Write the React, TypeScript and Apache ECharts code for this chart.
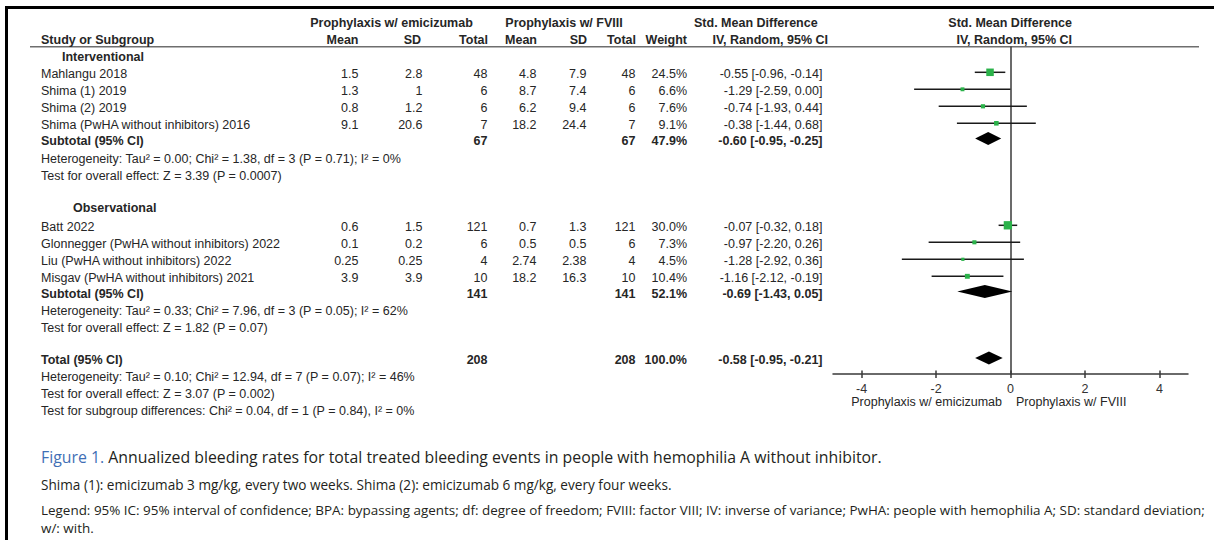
import React, { useEffect, useRef } from "react";
import * as echarts from "echarts";

// ---------- data ----------
const studies = [
  "Mahlangu 2018",
  "Shima (1) 2019",
  "Shima (2) 2019",
  "Shima (PwHA without inhibitors) 2016",
  "Batt 2022",
  "Glonnegger (PwHA without inhibitors) 2022",
  "Liu (PwHA without inhibitors) 2022",
  "Misgav (PwHA without inhibitors) 2021",
];
const studyGroup = [0, 0, 0, 0, 1, 1, 1, 1];
const emiMean = [1.5, 1.3, 0.8, 9.1, 0.6, 0.1, 0.25, 3.9];
const emiSD = [2.8, 1, 1.2, 20.6, 1.5, 0.2, 0.25, 3.9];
const emiN = [48, 6, 6, 7, 121, 6, 4, 10];
const fviiiMean = [4.8, 8.7, 6.2, 18.2, 0.7, 0.5, 2.74, 18.2];
const fviiiSD = [7.9, 7.4, 9.4, 24.4, 1.3, 0.5, 2.38, 16.3];
const fviiiN = [48, 6, 6, 7, 121, 6, 4, 10];
const weight = [24.5, 6.6, 7.6, 9.1, 30.0, 7.3, 4.5, 10.4];
const smd = [-0.55, -1.29, -0.74, -0.38, -0.07, -0.97, -1.28, -1.16];
const ciLow = [-0.96, -2.59, -1.93, -1.44, -0.32, -2.2, -2.92, -2.12];
const ciHigh = [-0.14, 0.0, 0.44, 0.68, 0.18, 0.26, 0.36, -0.19];

const groupNames = ["Interventional", "Observational"];
const subN = [67, 141];
const subWeight = [47.9, 52.1];
const subSmd = [-0.6, -0.69];
const subLow = [-0.95, -1.43];
const subHigh = [-0.25, 0.05];
const subHet = [
  "Heterogeneity: Tau² = 0.00; Chi² = 1.38, df = 3 (P = 0.71); I² = 0%",
  "Heterogeneity: Tau² = 0.33; Chi² = 7.96, df = 3 (P = 0.05); I² = 62%",
];
const subTest = [
  "Test for overall effect: Z = 3.39 (P = 0.0007)",
  "Test for overall effect: Z = 1.82 (P = 0.07)",
];
const totalN = 208;
const totalWeight = 100.0;
const totalSmd = -0.58;
const totalLow = -0.95;
const totalHigh = -0.21;
const totalNotes = [
  "Heterogeneity: Tau² = 0.10; Chi² = 12.94, df = 7 (P = 0.07); I² = 46%",
  "Test for overall effect: Z = 3.07 (P = 0.002)",
  "Test for subgroup differences: Chi² = 0.04, df = 1 (P = 0.84), I² = 0%",
];
const xTicks = [-4, -2, 0, 2, 4];
const favoursLeft = "Prophylaxis w/ emicizumab";
const favoursRight = "Prophylaxis w/ FVIII";
const captionLabel = "Figure 1.";
const captionText =
  "Annualized bleeding rates for total treated bleeding events in people with hemophilia A without inhibitor.";
const noteText =
  "Shima (1): emicizumab 3 mg/kg, every two weeks. Shima (2): emicizumab 6 mg/kg, every four weeks.";
const legendText1 =
  "Legend: 95% IC: 95% interval of confidence; BPA: bypassing agents; df: degree of freedom; FVIII: factor VIII; IV: inverse of variance; PwHA: people with hemophilia A; SD: standard deviation;";
const legendText2 = "w/: with.";

// ---------- layout (rows in table line units) ----------
const studyRows = [1, 2, 3, 4, 10, 11, 12, 13];
const groupHeadRows = [0, 8.85];
const subRows = [4.9, 13.9];
const hetRows = [5.98, 14.95];
const testRows = [7, 15.95];
const totalRow = 17.8;
const totalNoteRows = [18.8, 19.8, 20.8];

const ROW0 = 55.3;
const ROW_H = 17;
const PLOT_TOP = 47;
const PLOT_BOTTOM = 374;
const PLOT_LEFT = 833;
const PLOT_RIGHT = 1188;
const X_MIN = -4.77;
const X_MAX = 4.77;
const rowY = (r: number) => ROW0 + ROW_H * r + 2;

const FONT = '"Liberation Sans", Arial, sans-serif';
const CAP_FONT = '"Open Sans", "Noto Sans", sans-serif';
const TXT = "#262626";

const cols = {
  name: 41,
  emiMean: 358.5,
  emiSD: 422.5,
  emiN: 487.5,
  fMean: 536.5,
  fSD: 586.5,
  fN: 635.5,
  weight: 687,
  ci: 822.5,
};

const fmtCI = (e: number, l: number, h: number) =>
  `${e.toFixed(2)} [${l.toFixed(2)}, ${h.toFixed(2)}]`;

function txt(
  text: string,
  x: number,
  y: number,
  align: string,
  bold = false,
  size = 12.5,
  fill = TXT,
  family = FONT
) {
  return {
    type: "text",
    x,
    y,
    silent: true,
    style: {
      text,
      font: `${bold ? "bold " : ""}${size}px ${family}`,
      fill,
      align,
      verticalAlign: "middle",
      textAlign: align,
      textVerticalAlign: "middle",
    },
  };
}

export default function App() {
  const ref = useRef<HTMLDivElement>(null);

  useEffect(() => {
    if (!ref.current) return;
    const chart = echarts.init(ref.current, null, { renderer: "svg" });

    const graphics: any[] = [];
    // frame
    graphics.push({
      type: "line",
      shape: { x1: 6.5, y1: 6, x2: 6.5, y2: 540 },
      style: { stroke: "#000", lineWidth: 3 },
    });
    graphics.push({
      type: "line",
      shape: { x1: 5, y1: 7.5, x2: 1214, y2: 7.5 },
      style: { stroke: "#000", lineWidth: 3 },
    });
    // header underline
    graphics.push({
      type: "line",
      shape: { x1: 30, y1: 46.8, x2: 1199, y2: 46.8 },
      style: { stroke: "#6e6e6e", lineWidth: 1.6 },
    });

    // headers
    const H1 = 23;
    const H2 = 39.5;
    graphics.push(txt("Prophylaxis w/ emicizumab", 391.5, H1, "center", true));
    graphics.push(txt("Prophylaxis w/ FVIII", 564, H1, "center", true));
    graphics.push(txt("Std. Mean Difference", 694, H1, "left", true));
    graphics.push(txt("Std. Mean Difference", 1072, H1, "right", true));
    graphics.push(txt("Study or Subgroup", cols.name, H2, "left", true));
    graphics.push(txt("Mean", cols.emiMean, H2, "right", true));
    graphics.push(txt("SD", cols.emiSD - 1.5, H2, "right", true));
    graphics.push(txt("Total", cols.emiN + 0.5, H2, "right", true));
    graphics.push(txt("Mean", cols.fMean + 0.5, H2, "right", true));
    graphics.push(txt("SD", cols.fSD + 0.5, H2, "right", true));
    graphics.push(txt("Total", cols.fN + 0.5, H2, "right", true));
    graphics.push(txt("Weight", cols.weight, H2, "right", true));
    graphics.push(txt("IV, Random, 95% CI", 828, H2, "right", true));
    graphics.push(txt("IV, Random, 95% CI", 1072, H2, "right", true));

    // groups
    for (let g = 0; g < groupNames.length; g++) {
      graphics.push(txt(groupNames[g], g === 0 ? 62 : 73, rowY(groupHeadRows[g]), "left", true));
      studies.forEach((s, i) => {
        if (studyGroup[i] !== g) return;
        const y = rowY(studyRows[i]);
        graphics.push(txt(s, cols.name, y, "left"));
        graphics.push(txt(String(emiMean[i]), cols.emiMean, y, "right"));
        graphics.push(txt(String(emiSD[i]), cols.emiSD, y, "right"));
        graphics.push(txt(String(emiN[i]), cols.emiN, y, "right"));
        graphics.push(txt(String(fviiiMean[i]), cols.fMean, y, "right"));
        graphics.push(txt(String(fviiiSD[i]), cols.fSD, y, "right"));
        graphics.push(txt(String(fviiiN[i]), cols.fN, y, "right"));
        graphics.push(txt(weight[i].toFixed(1) + "%", cols.weight, y, "right"));
        graphics.push(txt(fmtCI(smd[i], ciLow[i], ciHigh[i]), cols.ci, y, "right"));
      });
      const ys = rowY(subRows[g]);
      graphics.push(txt("Subtotal (95% CI)", cols.name, ys, "left", true));
      graphics.push(txt(String(subN[g]), cols.emiN, ys, "right", true));
      graphics.push(txt(String(subN[g]), cols.fN, ys, "right", true));
      graphics.push(txt(subWeight[g].toFixed(1) + "%", cols.weight, ys, "right", true));
      graphics.push(txt(fmtCI(subSmd[g], subLow[g], subHigh[g]), cols.ci, ys, "right", true));
      graphics.push(txt(subHet[g], cols.name, rowY(hetRows[g]), "left"));
      graphics.push(txt(subTest[g], cols.name, rowY(testRows[g]), "left"));
    }
    const yt = rowY(totalRow);
    graphics.push(txt("Total (95% CI)", cols.name, yt, "left", true));
    graphics.push(txt(String(totalN), cols.emiN, yt, "right", true));
    graphics.push(txt(String(totalN), cols.fN, yt, "right", true));
    graphics.push(txt(totalWeight.toFixed(1) + "%", cols.weight, yt, "right", true));
    graphics.push(txt(fmtCI(totalSmd, totalLow, totalHigh), cols.ci, yt, "right", true));
    totalNotes.forEach((t, k) => graphics.push(txt(t, cols.name, rowY(totalNoteRows[k]), "left")));

    // favours labels
    graphics.push(txt(favoursLeft, 1002, 401.7, "right"));
    graphics.push(txt(favoursRight, 1016, 401.7, "left"));

    // caption
    const capSize = 15.83;
    graphics.push({
      type: "text",
      x: 41,
      y: 457,
      silent: true,
      style: {
        text: `{a|${captionLabel}} {b|${captionText}}`,
        font: `${capSize}px ${CAP_FONT}`,
        verticalAlign: "middle",
        textVerticalAlign: "middle",
        rich: {
          a: { fill: "#3f6fb5", font: `${capSize}px ${CAP_FONT}`, color: "#3f6fb5" },
          b: { fill: "#231f20", font: `${capSize}px ${CAP_FONT}`, color: "#231f20" },
        },
      },
    });
    graphics.push(txt(noteText, 41, 484, "left", false, 13.6, "#231f20", CAP_FONT));
    graphics.push(txt(legendText1, 41, 510, "left", false, 13.45, "#231f20", CAP_FONT));
    graphics.push(txt(legendText2, 41, 528, "left", false, 13.45, "#231f20", CAP_FONT));

    // forest data
    const forest: any[] = studies.map((_, i) => [smd[i], ciLow[i], ciHigh[i], studyRows[i], weight[i], 0]);
    subRows.forEach((r, g) => forest.push([subSmd[g], subLow[g], subHigh[g], r, subWeight[g], 1]));
    forest.push([totalSmd, totalLow, totalHigh, totalRow, totalWeight, 1]);

    const axisBase = {
      type: "value",
      min: X_MIN,
      max: X_MAX,
      splitLine: { show: false },
    };

    const option: any = {
      animation: false,
      grid: {
        left: PLOT_LEFT,
        top: PLOT_TOP,
        width: PLOT_RIGHT - PLOT_LEFT,
        height: PLOT_BOTTOM - PLOT_TOP,
        containLabel: false,
      },
      xAxis: [
        {
          ...axisBase,
          position: "bottom",
          axisLine: { show: true, onZero: false, lineStyle: { color: "#3a3a3a", width: 1.5 } },
          axisTick: { show: true, length: 4, customValues: xTicks, lineStyle: { color: "#3a3a3a", width: 1.5 } },
          axisLabel: {
            show: true,
            customValues: xTicks,
            margin: 8,
            color: "#333",
            fontFamily: FONT,
            fontSize: 12.5,
          },
        },
        {
          ...axisBase,
          position: "bottom",
          axisLine: { show: false, onZero: false },
          axisTick: { show: true, inside: true, length: 3.5, customValues: xTicks, lineStyle: { color: "#3a3a3a", width: 1.5 } },
          axisLabel: { show: false },
        },
      ],
      yAxis: {
        type: "value",
        inverse: true,
        min: (PLOT_TOP - ROW0) / ROW_H,
        max: (PLOT_BOTTOM - ROW0) / ROW_H,
        axisLine: { show: true, onZero: true, lineStyle: { color: "#3a3a3a", width: 1.5 } },
        axisTick: { show: false },
        axisLabel: { show: false },
        splitLine: { show: false },
      },
      graphic: { elements: graphics },
      series: [
        {
          type: "custom",
          xAxisIndex: 0,
          yAxisIndex: 0,
          clip: false,
          data: forest,
          renderItem: (params: any, api: any) => {
            const est = api.value(0);
            const lo = api.value(1);
            const hi = api.value(2);
            const row = api.value(3);
            const w = api.value(4);
            const kind = api.value(5);
            const pc = api.coord([est, row]);
            const pl = api.coord([lo, row]);
            const ph = api.coord([hi, row]);
            if (kind === 0) {
              const s = 1.52 * Math.sqrt(w);
              return {
                type: "group",
                children: [
                  {
                    type: "line",
                    shape: { x1: pl[0], y1: pc[1], x2: ph[0], y2: pc[1] },
                    style: { stroke: "#1a1a1a", lineWidth: 1.5 },
                  },
                  {
                    type: "rect",
                    shape: { x: pc[0] - s / 2, y: pc[1] - s / 2, width: s, height: s },
                    style: { fill: "#2bb24a" },
                  },
                ],
              };
            }
            const h = 13;
            return {
              type: "polygon",
              shape: {
                points: [
                  [pl[0], pc[1]],
                  [pc[0], pc[1] - h / 2],
                  [ph[0], pc[1]],
                  [pc[0], pc[1] + h / 2],
                ],
              },
              style: { fill: "#000" },
            };
          },
        },
      ],
    };

    chart.setOption(option);
    return () => chart.dispose();
  }, []);

  return (
    <div
      ref={ref}
      style={{ position: "absolute", left: 0, top: 0, width: 1214, height: 540, background: "#fff" }}
    />
  );
}
